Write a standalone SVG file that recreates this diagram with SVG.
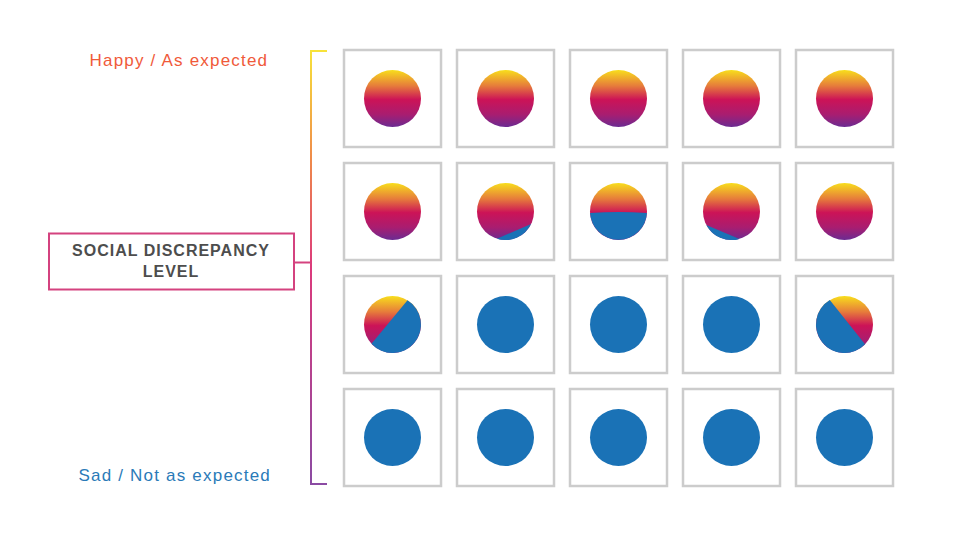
<svg xmlns="http://www.w3.org/2000/svg" width="976" height="539" viewBox="0 0 976 539">
<style>
.cell{fill:#fff;stroke:#cccccc;stroke-width:2.5}
.g{fill:url(#sun)}
.b{fill:#1a72b6}
.lbl{font-family:"Liberation Sans",Arial,sans-serif;font-size:17px;letter-spacing:1.2px}
.t{font-family:"Liberation Sans",Arial,sans-serif;font-size:16px;font-weight:bold;fill:#4d4d4d;letter-spacing:1px;text-anchor:middle}
</style>
<defs>
<linearGradient id="sun" x1="0" y1="0" x2="0" y2="1">
<stop offset="0" stop-color="#f8de1c"/>
<stop offset="0.28" stop-color="#e67b3b"/>
<stop offset="0.52" stop-color="#cc1357"/>
<stop offset="0.78" stop-color="#a91d70"/>
<stop offset="1" stop-color="#6b2b92"/>
</linearGradient>
<linearGradient id="brk" gradientUnits="userSpaceOnUse" x1="0" y1="51" x2="0" y2="484">
<stop offset="0" stop-color="#f7e23a"/>
<stop offset="0.25" stop-color="#ef8a4a"/>
<stop offset="0.5" stop-color="#dc3a7c"/>
<stop offset="1" stop-color="#8b4ba3"/>
</linearGradient>
</defs>
<rect width="976" height="539" fill="#fff"/>
<g id="labels">
<text class="lbl" x="89.5" y="65.5" fill="#f05a3a">Happy / As expected</text>
<text class="lbl" x="78.5" y="480.5" fill="#2a7ab8">Sad / Not as expected</text>
</g>
<g id="connectors">
<path d="M327 51 H311 V484 H327" fill="none" stroke="url(#brk)" stroke-width="2"/>
<line x1="294" y1="262.5" x2="311" y2="262.5" stroke="#d4427f" stroke-width="2"/>
</g>
<g id="level-node">
<rect x="49" y="233.5" width="245" height="56" fill="#fff" stroke="#d4427f" stroke-width="2"/>
<text class="t" x="171" y="256">SOCIAL DISCREPANCY</text>
<text class="t" x="171" y="276.5">LEVEL</text>
</g>
<g id="row1">
<g id="r1c1"><rect class="cell" x="344" y="50" width="97" height="97"/><circle class="g" cx="392.5" cy="98.5" r="28.5"/></g>
<g id="r1c2"><rect class="cell" x="457" y="50" width="97" height="97"/><circle class="g" cx="505.5" cy="98.5" r="28.5"/></g>
<g id="r1c3"><rect class="cell" x="570" y="50" width="97" height="97"/><circle class="g" cx="618.5" cy="98.5" r="28.5"/></g>
<g id="r1c4"><rect class="cell" x="683" y="50" width="97" height="97"/><circle class="g" cx="731.5" cy="98.5" r="28.5"/></g>
<g id="r1c5"><rect class="cell" x="796" y="50" width="97" height="97"/><circle class="g" cx="844.5" cy="98.5" r="28.5"/></g>
</g>
<g id="row2">
<g id="r2c1"><rect class="cell" x="344" y="163" width="97" height="97"/><circle class="g" cx="392.5" cy="211.5" r="28.5"/></g>
<g id="r2c2"><rect class="cell" x="457" y="163" width="97" height="97"/><circle class="g" cx="505.5" cy="211.5" r="28.5"/>
<path class="b" d="M496.9 238.7 A28.5 28.5 0 0 0 531.1 224 Z"/></g>
<g id="r2c3"><rect class="cell" x="570" y="163" width="97" height="97"/><circle class="g" cx="618.5" cy="211.5" r="28.5"/>
<path class="b" d="M590.05 213 A28.5 28.5 0 0 0 646.95 213 Q618.5 211 590.05 213 Z"/></g>
<g id="r2c4"><rect class="cell" x="683" y="163" width="97" height="97"/><circle class="g" cx="731.5" cy="211.5" r="28.5"/>
<path class="b" d="M706.3 224.9 A28.5 28.5 0 0 0 739.4 238.9 Z"/></g>
<g id="r2c5"><rect class="cell" x="796" y="163" width="97" height="97"/><circle class="g" cx="844.5" cy="211.5" r="28.5"/></g>
</g>
<g id="row3">
<g id="r3c1"><rect class="cell" x="344" y="276" width="97" height="97"/><circle class="g" cx="392.5" cy="324.5" r="28.5"/>
<path class="b" d="M407.5 300.3 A28.5 28.5 0 1 1 371.5 343.8 Z"/></g>
<g id="r3c2"><rect class="cell" x="457" y="276" width="97" height="97"/><circle class="b" cx="505.5" cy="324.5" r="28.5"/></g>
<g id="r3c3"><rect class="cell" x="570" y="276" width="97" height="97"/><circle class="b" cx="618.5" cy="324.5" r="28.5"/></g>
<g id="r3c4"><rect class="cell" x="683" y="276" width="97" height="97"/><circle class="b" cx="731.5" cy="324.5" r="28.5"/></g>
<g id="r3c5"><rect class="cell" x="796" y="276" width="97" height="97"/><circle class="g" cx="844.5" cy="324.5" r="28.5"/>
<path class="b" d="M865 344.3 A28.5 28.5 0 1 1 829.8 300.1 Z"/></g>
</g>
<g id="row4">
<g id="r4c1"><rect class="cell" x="344" y="389" width="97" height="97"/><circle class="b" cx="392.5" cy="437.5" r="28.5"/></g>
<g id="r4c2"><rect class="cell" x="457" y="389" width="97" height="97"/><circle class="b" cx="505.5" cy="437.5" r="28.5"/></g>
<g id="r4c3"><rect class="cell" x="570" y="389" width="97" height="97"/><circle class="b" cx="618.5" cy="437.5" r="28.5"/></g>
<g id="r4c4"><rect class="cell" x="683" y="389" width="97" height="97"/><circle class="b" cx="731.5" cy="437.5" r="28.5"/></g>
<g id="r4c5"><rect class="cell" x="796" y="389" width="97" height="97"/><circle class="b" cx="844.5" cy="437.5" r="28.5"/></g>
</g>
</svg>
